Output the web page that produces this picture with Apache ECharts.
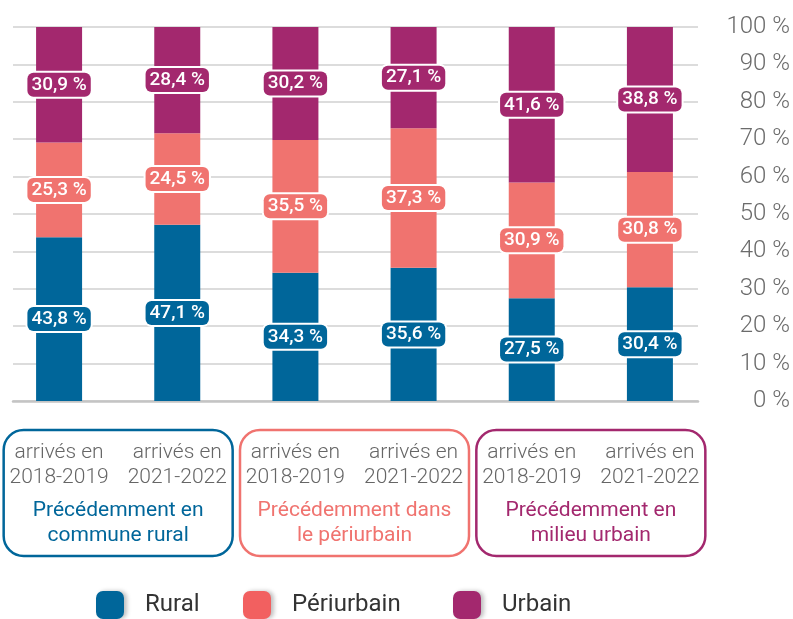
<!DOCTYPE html>
<html lang="fr">
<head>
    <meta charset="UTF-8">
    <title>Lieu de résidence précédent</title>
</head>
<style>
    body { margin: 0; background: #fff; }
    #main { width: 793px; height: 619px; }
</style>
<body>
<div id="main"></div>
</body>
<script src="https://cdn.jsdelivr.net/npm/echarts@6/dist/echarts.min.js"></script>
<script>
    // données
    var categories = ['arrivés en\n2018-2019', 'arrivés en\n2021-2022', 'arrivés en\n2018-2019', 'arrivés en\n2021-2022', 'arrivés en\n2018-2019', 'arrivés en\n2021-2022'];
    var rural = [43.8, 47.1, 34.3, 35.6, 27.5, 30.4];
    var periurbain = [25.3, 24.5, 35.5, 37.3, 30.9, 30.8];
    var urbain = [30.9, 28.4, 30.2, 27.1, 41.6, 38.8];
    var groupes = ['Précédemment en\ncommune rural', 'Précédemment dans\nle périurbain', 'Précédemment en\nmilieu urbain'];
    var yTicks = [0, 10, 20, 30, 40, 50, 60, 70, 80, 90, 100];

    var couleurs = ['#00669a', '#f0736f', '#a3286e'];
    var font = 'Roboto';

    function fmt(v) {
        return String(v.toFixed(1)).replace('.', ',') + ' %';
    }

    function serie(name, data, color) {
        return {
            name: name,
            type: 'bar',
            stack: 'total',
            xAxisIndex: 0,
            yAxisIndex: 0,
            barWidth: 46,
            data: data,
            itemStyle: {color: color},
            label: {
                show: true,
                position: 'inside',
                formatter: function (p) { return fmt(p.value); },
                color: '#fff',
                fontFamily: font,
                fontWeight: 500,
                fontSize: 19,
                backgroundColor: color,
                borderColor: '#fff',
                borderWidth: 2,
                borderRadius: 6,
                padding: [3, 4, 2, 4]
            }
        };
    }

    function legende(name, left, color) {
        return {
            left: left,
            top: 591,
            padding: 0,
            itemWidth: 28,
            itemHeight: 28,
            icon: 'roundRect',
            data: [{name: name, itemStyle: {color: color, shadowBlur: 4, shadowOffsetX: 3, shadowColor: 'rgba(0,0,0,0.25)'}}],
            textStyle: {fontFamily: font, fontSize: 24, color: '#333', padding: [0, 0, 0, 16]}
        };
    }

    var myChart = echarts.init(document.getElementById('main'));

    var option = {
        animation: false,
        grid: [
            {left: 0, width: 709, top: 27, bottom: 218},
            {left: 13, right: 95, top: 27, bottom: 218}
        ],
        xAxis: [
            {
                gridIndex: 0,
                type: 'category',
                data: categories,
                axisLine: {show: false},
                axisTick: {show: false},
                axisLabel: {
                    interval: 0,
                    margin: 39,
                    fontFamily: font,
                    fontWeight: 300,
                    fontSize: 21,
                    lineHeight: 25,
                    color: '#666'
                }
            },
            {
                gridIndex: 1,
                type: 'value',
                min: 0,
                max: 1,
                axisLine: {show: true, onZero: false, lineStyle: {color: '#c4c4c4', width: 2.5}},
                axisTick: {show: false},
                axisLabel: {show: false},
                splitLine: {show: false}
            }
        ],
        yAxis: [
            {gridIndex: 0, type: 'value', min: 0, max: 100, show: false},
            {
                gridIndex: 1,
                type: 'value',
                position: 'right',
                min: yTicks[0],
                max: yTicks[yTicks.length - 1],
                interval: 10,
                axisLine: {show: false},
                axisTick: {show: false},
                splitLine: {lineStyle: {color: '#dcdcdc', width: 2}},
                axisLabel: {
                    align: 'right',
                    margin: 92,
                    formatter: '{value} %',
                    fontFamily: font,
                    fontWeight: 300,
                    fontSize: 24,
                    color: '#6b6b6b'
                }
            }
        ],
        legend: [
            legende('Rural', 96, '#00669a'),
            legende('Périurbain', 243, '#f26060'),
            legende('Urbain', 453, '#a3286e')
        ],
        series: [
            serie('Rural', rural, couleurs[0]),
            serie('Périurbain', periurbain, couleurs[1]),
            serie('Urbain', urbain, couleurs[2])
        ]
    };

    myChart.setOption(option);

    // cadres et titres des groupes, placés d'après l'axe des catégories
    var graphic = [];
    var y0 = myChart.convertToPixel({yAxisIndex: 0}, 0);
    for (var g = 0; g < groupes.length; g++) {
        var xa = myChart.convertToPixel({xAxisIndex: 0}, 2 * g);
        var xb = myChart.convertToPixel({xAxisIndex: 0}, 2 * g + 1);
        var cx = (xa + xb) / 2;
        graphic.push({
            type: 'rect',
            shape: {x: cx - 114.5, y: y0 + 29, width: 229, height: 126, r: 20},
            style: {fill: 'none', stroke: couleurs[g], lineWidth: 2.5}
        });
        graphic.push({
            type: 'text',
            x: cx,
            y: y0 + 122,
            style: {
                text: groupes[g],
                align: 'center',
                verticalAlign: 'middle',
                fontFamily: font,
                fontSize: 21,
                lineHeight: 25,
                fill: couleurs[g]
            }
        });
    }
    myChart.setOption({graphic: graphic});
</script>
</html>
